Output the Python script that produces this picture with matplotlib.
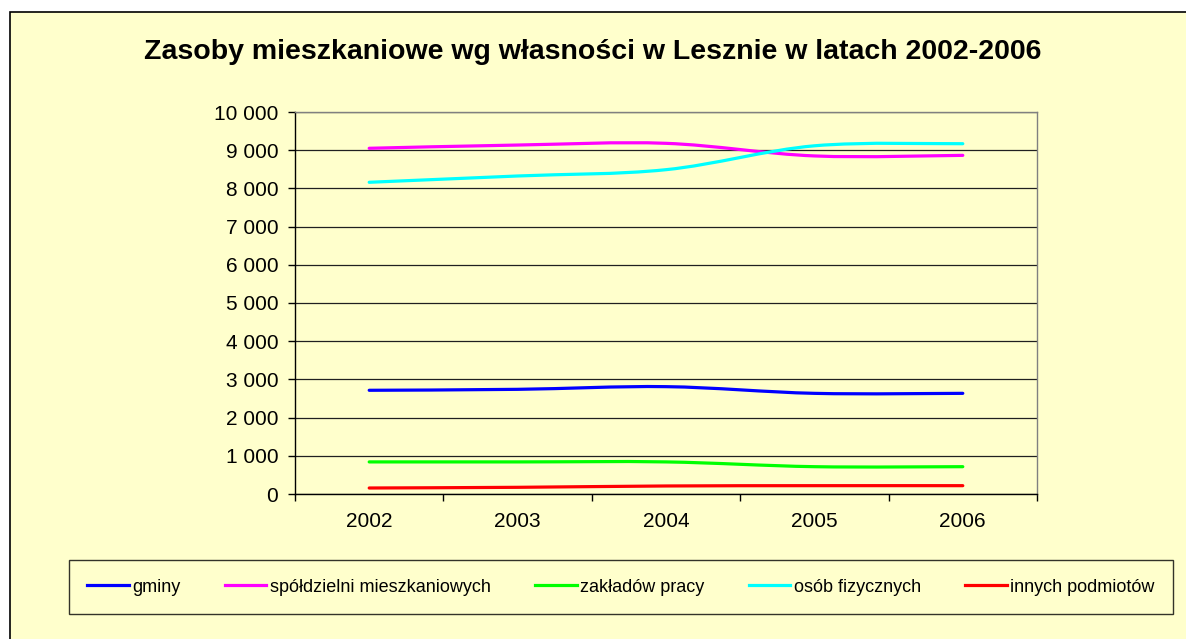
import matplotlib
matplotlib.use("Agg")
import matplotlib.pyplot as plt
import numpy as np
from matplotlib.path import Path
from matplotlib.patches import PathPatch, Rectangle
from matplotlib.lines import Line2D
from matplotlib.ticker import FuncFormatter

plt.rcParams['font.family'] = ['Liberation Sans', 'DejaVu Sans']

# Housing stock by ownership, Leszno 2002-2006
years = ["2002", "2003", "2004", "2005", "2006"]
gminy = [2715, 2740, 2810, 2635, 2635]
spoldzielnie = [9050, 9135, 9180, 8850, 8865]
zaklady = [840, 840, 840, 715, 715]
osoby = [8160, 8325, 8490, 9115, 9170]
inne = [157, 175, 210, 218, 218]

series = [
    ("gminy", gminy, "#0000FF"),
    ("spółdzielni mieszkaniowych", spoldzielnie, "#FF00FF"),
    ("zakładów pracy", zaklady, "#00FF00"),
    ("osób fizycznych", osoby, "#00FFFF"),
    ("innych podmiotów", inne, "#FF0000"),
]

BG = "#FFFFCC"
W, H = 1186, 639


def smooth_path(xs, ys):
    """Excel-like smoothed line: cubic bezier through every point."""
    pts = np.column_stack([xs, ys]).astype(float)
    n = len(pts)
    verts = [pts[0]]
    codes = [Path.MOVETO]
    for i in range(n - 1):
        p0 = pts[max(i - 1, 0)]
        p1 = pts[i]
        p2 = pts[i + 1]
        p3 = pts[min(i + 2, n - 1)]
        c1 = p1 + (p2 - p0) / 6.0
        c2 = p2 - (p3 - p1) / 6.0
        verts += [c1, c2, p2]
        codes += [Path.CURVE4] * 3
    return Path(verts, codes)


fig = plt.figure(figsize=(W / 100, H / 100), dpi=100)
fig.patch.set_facecolor("white")

# chart area background with its border (runs off the right and bottom)
fig.patches.append(Rectangle((10 / W, -0.05), 1.2, 1 - 12 / H + 0.05,
                             transform=fig.transFigure, facecolor=BG,
                             edgecolor="black", linewidth=1.2, zorder=-10))

ax = fig.add_axes([295 / W, (H - 494) / H, 742 / W, 382 / H])
ax.set_facecolor(BG)

x = np.arange(1, len(years) + 1)
handles = []
for name, vals, col in series:
    ax.add_patch(PathPatch(smooth_path(x, vals), fill=False, edgecolor=col,
                           linewidth=2.3, capstyle="round", zorder=3))
    handles.append(Line2D([], [], color=col, linewidth=2.3))

ax.set_xlim(0.5, len(years) + 0.5)
ax.set_ylim(0, 10000)

ax.set_yticks(np.arange(0, 10001, 1000))
ax.yaxis.set_major_formatter(FuncFormatter(lambda v, p: f"{int(v):,}".replace(",", " ")))
ax.grid(axis="y", color="#202020", linewidth=0.9, zorder=1)
ax.set_axisbelow(True)

ax.set_xticks(np.arange(0.5, len(years) + 1, 1.0))
ax.set_xticklabels([])
ax.set_xticks(x, minor=True)
ax.set_xticklabels(years, minor=True)
ax.tick_params(axis="x", which="minor", length=0, pad=13, labelsize=15)
ax.tick_params(axis="x", which="major", length=5, width=1, direction="out")
ax.tick_params(axis="y", length=5, width=1, direction="out", pad=7, labelsize=15)

for side in ("left", "bottom"):
    ax.spines[side].set_color("black")
    ax.spines[side].set_linewidth(1)
for side in ("right", "top"):
    ax.spines[side].set_color("#808080")
    ax.spines[side].set_linewidth(1)

fig.text(593 / W, 1 - 52 / H, "Zasoby mieszkaniowe wg własności w Lesznie w latach 2002-2006",
         ha="center", va="center", fontsize=20.5, fontweight="bold")

leg = fig.legend(handles, [s[0] for s in series], loc="center",
                 bbox_to_anchor=(621 / W, 1 - 587 / H), ncol=5, fontsize=13,
                 frameon=True, fancybox=False, handlelength=2.3, handletextpad=0.2,
                 columnspacing=2.45, borderpad=1.0)
leg.get_frame().set_facecolor(BG)
leg.get_frame().set_edgecolor("black")
leg.get_frame().set_linewidth(1)

fig.savefig("out.png", dpi=100, facecolor=fig.get_facecolor())
